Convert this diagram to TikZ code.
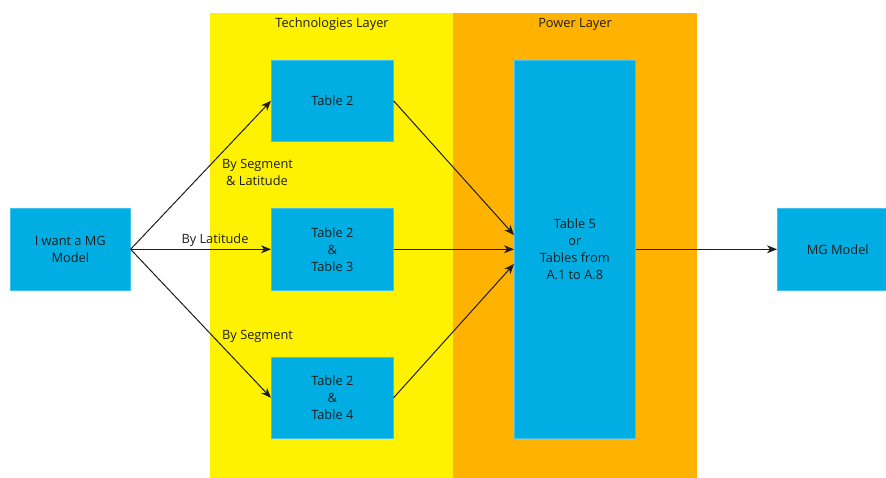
\documentclass[tikz,border=0pt]{standalone}
\usepackage{fontspec}
\setmainfont{Open Sans}
\usetikzlibrary{arrows.meta}
\definecolor{layyellow}{HTML}{FFF200}
\definecolor{layorange}{HTML}{FFB300}
\definecolor{boxblue}{HTML}{00AEE3}
\definecolor{boxedge}{HTML}{3FC3EE}
\definecolor{txt}{HTML}{1E1E1E}
\begin{document}
\begin{tikzpicture}[x=1pt,y=-1pt,
  font=\fontsize{12.8}{17}\selectfont, text=txt,
  bluebox/.style={fill=boxblue,draw=boxedge,line width=0.6pt,align=center,anchor=north west,inner sep=0pt},
  conn/.style={draw=txt,line width=1pt,-{Stealth[length=10pt,width=8pt,inset=3pt]}},
  lbl/.style={align=left,inner sep=0pt}]
\useasboundingbox (0,0) rectangle (886,478);
\begin{scope}
\clip (0,0) rectangle (886,478);
% layers
\fill[layyellow] (210,13) rectangle (453,478);
\fill[layorange] (453,13) rectangle (697,478);
\node (techlbl) at (332,24) {Technologies Layer};
\node (powlbl) at (575,24) {Power Layer};
% boxes
\node[bluebox,minimum width=120pt,minimum height=82pt] (start) at (10,208) {};
\node[align=center] at (start.center) {I want a MG\\Model};
\node[bluebox,minimum width=122pt,minimum height=81pt] (t2) at (271,60) {};
\node at (t2.center) {Table 2};
\node[bluebox,minimum width=122pt,minimum height=82pt] (t23) at (271,208) {};
\node[align=center] at (t23.center) {Table 2\\\&\\Table 3};
\node[bluebox,minimum width=122pt,minimum height=81pt] (t24) at (271,357) {};
\node[align=center] at (t24.center) {Table 2\\\&\\Table 4};
\node[bluebox,minimum width=121pt,minimum height=378pt] (t5) at (514,60) {};
\node[align=center] at (t5.center) {Table 5\\or\\Tables from\\A.1 to A.8};
\node[bluebox,minimum width=121pt,minimum height=82pt] (mg) at (777,208) {};
\node at (mg.center) {MG Model};
% connectors
\coordinate (t5a) at (514,235);
\coordinate (t5c) at (514,264);
\draw[conn] (start.east) -- (t2.west);
\draw[conn] (start.east) -- (t23.west);
\draw[conn] (start.east) -- (t24.west);
\draw[conn] (t2.east) -- (t5a);
\draw[conn] (t23.east) -- (t5.west);
\draw[conn] (t24.east) -- (t5c);
\draw[conn] (t5.east) -- (mg.west);
% labels
\node[lbl,anchor=west] (l1) at (222,172) {By Segment\\\hspace*{4pt}\& Latitude};
\node[lbl] (l2) at (215,240) {By Latitude};
\node[lbl,anchor=west] (l3) at (222,336) {By Segment};
\end{scope}
\end{tikzpicture}
\end{document}
